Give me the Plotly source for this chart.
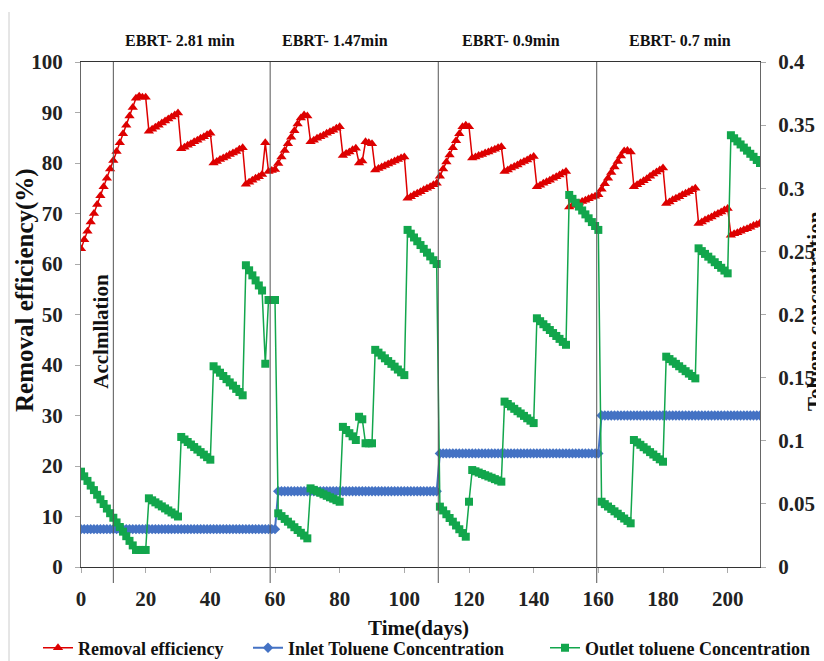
import plotly.graph_objects as go

days = list(range(0, 211))

removal_efficiency = [
    63.0, 64.8, 66.5, 68.3, 70.0, 71.8, 73.5, 75.3, 77.0, 78.8,
    80.5, 82.3, 84.0, 85.8, 87.5, 89.3, 91.0, 92.8, 93.2, 93.0, 93.0,
    86.3, 86.7, 87.1, 87.5, 87.9, 88.3, 88.7, 89.1, 89.5, 89.9,
    82.8, 83.1, 83.5, 83.8, 84.2, 84.5, 84.9, 85.2, 85.6, 85.9,
    80.0, 80.3, 80.7, 81.0, 81.3, 81.7, 82.0, 82.3, 82.7, 83.0,
    75.8, 76.2, 76.6, 77.0, 77.3, 77.7, 84.0, 78.3, 78.5, 78.7,
    79.9, 81.2, 82.5, 83.8, 85.1, 86.4, 87.7, 88.9, 89.5, 89.3,
    84.2, 84.5, 84.9, 85.2, 85.5, 85.9, 86.2, 86.5, 86.9, 87.2,
    81.5, 81.9, 82.2, 82.6, 82.9, 80.0, 80.4, 84.2, 84.0, 83.8,
    78.6, 78.9, 79.2, 79.5, 79.8, 80.1, 80.4, 80.7, 81.0, 81.2,
    73.0, 73.3, 73.7, 74.0, 74.3, 74.7, 75.0, 75.3, 75.7, 76.0,
    77.4, 78.8, 80.2, 81.6, 83.0, 84.4, 85.8, 87.2, 87.5, 87.2,
    81.0, 81.2, 81.5, 81.7, 82.0, 82.2, 82.5, 82.7, 83.0, 83.2,
    78.3, 78.6, 79.0, 79.3, 79.6, 80.0, 80.3, 80.6, 81.0, 81.3,
    75.3, 75.6, 76.0, 76.3, 76.6, 77.0, 77.3, 77.6, 78.0, 78.3,
    71.3, 71.6, 71.8, 72.1, 72.4, 72.6, 72.9, 73.2, 73.4, 73.7,
    74.8, 75.9, 77.0, 78.1, 79.2, 80.3, 81.4, 82.4, 82.5, 82.2,
    75.3, 75.7, 76.1, 76.5, 76.9, 77.4, 77.8, 78.2, 78.6, 79.0,
    72.0, 72.3, 72.7, 73.0, 73.3, 73.7, 74.0, 74.3, 74.7, 75.0,
    68.0, 68.3, 68.7, 69.0, 69.3, 69.7, 70.0, 70.3, 70.7, 71.0,
    65.7, 66.0, 66.2, 66.5, 66.8, 67.0, 67.3, 67.6, 67.8, 68.1,
]

inlet_toluene = [
    0.03, 0.03, 0.03, 0.03, 0.03, 0.03, 0.03, 0.03, 0.03, 0.03,
    0.03, 0.03, 0.03, 0.03, 0.03, 0.03, 0.03, 0.03, 0.03, 0.03, 0.03,
    0.03, 0.03, 0.03, 0.03, 0.03, 0.03, 0.03, 0.03, 0.03, 0.03,
    0.03, 0.03, 0.03, 0.03, 0.03, 0.03, 0.03, 0.03, 0.03, 0.03,
    0.03, 0.03, 0.03, 0.03, 0.03, 0.03, 0.03, 0.03, 0.03, 0.03,
    0.03, 0.03, 0.03, 0.03, 0.03, 0.03, 0.03, 0.03, 0.03, 0.03,
    0.06, 0.06, 0.06, 0.06, 0.06, 0.06, 0.06, 0.06, 0.06, 0.06,
    0.06, 0.06, 0.06, 0.06, 0.06, 0.06, 0.06, 0.06, 0.06, 0.06,
    0.06, 0.06, 0.06, 0.06, 0.06, 0.06, 0.06, 0.06, 0.06, 0.06,
    0.06, 0.06, 0.06, 0.06, 0.06, 0.06, 0.06, 0.06, 0.06, 0.06,
    0.06, 0.06, 0.06, 0.06, 0.06, 0.06, 0.06, 0.06, 0.06, 0.06,
    0.09, 0.09, 0.09, 0.09, 0.09, 0.09, 0.09, 0.09, 0.09, 0.09,
    0.09, 0.09, 0.09, 0.09, 0.09, 0.09, 0.09, 0.09, 0.09, 0.09,
    0.09, 0.09, 0.09, 0.09, 0.09, 0.09, 0.09, 0.09, 0.09, 0.09,
    0.09, 0.09, 0.09, 0.09, 0.09, 0.09, 0.09, 0.09, 0.09, 0.09,
    0.09, 0.09, 0.09, 0.09, 0.09, 0.09, 0.09, 0.09, 0.09, 0.09,
    0.12, 0.12, 0.12, 0.12, 0.12, 0.12, 0.12, 0.12, 0.12, 0.12,
    0.12, 0.12, 0.12, 0.12, 0.12, 0.12, 0.12, 0.12, 0.12, 0.12,
    0.12, 0.12, 0.12, 0.12, 0.12, 0.12, 0.12, 0.12, 0.12, 0.12,
    0.12, 0.12, 0.12, 0.12, 0.12, 0.12, 0.12, 0.12, 0.12, 0.12,
    0.12, 0.12, 0.12, 0.12, 0.12, 0.12, 0.12, 0.12, 0.12, 0.12,
]

outlet_toluene = [
    0.0755, 0.0718, 0.0682, 0.0645, 0.0609, 0.0572, 0.0536, 0.0499, 0.0463, 0.0426,
    0.0390, 0.0353, 0.0317, 0.0280, 0.0244, 0.0207, 0.0171, 0.0135, 0.0135, 0.0135, 0.0135,
    0.0544, 0.0528, 0.0512, 0.0496, 0.0480, 0.0464, 0.0448, 0.0432, 0.0416, 0.0400,
    0.1030, 0.1010, 0.0990, 0.0970, 0.0950, 0.0930, 0.0910, 0.0890, 0.0870, 0.0850,
    0.1590, 0.1564, 0.1539, 0.1513, 0.1488, 0.1462, 0.1437, 0.1411, 0.1386, 0.1360,
    0.2390, 0.2350, 0.2310, 0.2270, 0.2230, 0.2190, 0.1610, 0.2115, 0.2115, 0.2115,
    0.0425, 0.0403, 0.0381, 0.0359, 0.0337, 0.0315, 0.0293, 0.0271, 0.0249, 0.0227,
    0.0623, 0.0611, 0.0599, 0.0588, 0.0576, 0.0564, 0.0552, 0.0541, 0.0529, 0.0517,
    0.1110, 0.1085, 0.1060, 0.1035, 0.1006, 0.1190, 0.1170, 0.0980, 0.0980, 0.0980,
    0.1720, 0.1698, 0.1676, 0.1653, 0.1631, 0.1609, 0.1587, 0.1564, 0.1542, 0.1520,
    0.2670, 0.2640, 0.2610, 0.2580, 0.2550, 0.2520, 0.2490, 0.2460, 0.2430, 0.2400,
    0.0478, 0.0448, 0.0418, 0.0388, 0.0359, 0.0329, 0.0299, 0.0269, 0.0240, 0.0517,
    0.0768, 0.0758, 0.0748, 0.0737, 0.0727, 0.0717, 0.0707, 0.0696, 0.0686, 0.0676,
    0.1310, 0.1291, 0.1272, 0.1253, 0.1234, 0.1216, 0.1197, 0.1178, 0.1159, 0.1140,
    0.1970, 0.1947, 0.1923, 0.1900, 0.1877, 0.1853, 0.1830, 0.1807, 0.1783, 0.1760,
    0.2947, 0.2916, 0.2885, 0.2855, 0.2824, 0.2793, 0.2762, 0.2732, 0.2701, 0.2670,
    0.0517, 0.0498, 0.0479, 0.0460, 0.0441, 0.0422, 0.0403, 0.0384, 0.0365, 0.0346,
    0.1006, 0.0987, 0.0968, 0.0949, 0.0930, 0.0910, 0.0891, 0.0872, 0.0853, 0.0834,
    0.1666, 0.1647, 0.1628, 0.1609, 0.1590, 0.1570, 0.1551, 0.1532, 0.1513, 0.1494,
    0.2524, 0.2502, 0.2480, 0.2458, 0.2436, 0.2414, 0.2392, 0.2370, 0.2348, 0.2326,
    0.3420, 0.3396, 0.3371, 0.3347, 0.3322, 0.3298, 0.3273, 0.3249, 0.3224, 0.3200,
]

x_ticks = [0, 20, 40, 60, 80, 100, 120, 140, 160, 180, 200]
left_ticks = [0, 10, 20, 30, 40, 50, 60, 70, 80, 90, 100]
right_ticks = [0, 0.05, 0.1, 0.15, 0.2, 0.25, 0.3, 0.35, 0.4]
right_tick_text = ["0", "0.05", "0.1", "0.15", "0.2", "0.25", "0.3", "0.35", "0.4"]

phase_bounds = [10, 58.5, 110.5, 159.5]
phase_labels = ["EBRT- 2.81 min", "EBRT- 1.47min", "EBRT- 0.9min", "EBRT- 0.7 min"]
phase_label_x = [30.7, 78.7, 133, 185.4]

FONT = "Liberation Serif"
RED = "#dd0000"
BLUE = "#4472c4"
GREEN = "#12a64c"

# page has an 8px body margin; plot area in window pixels: x 81..760, y 62..567
PW, PH = 679.0, 505.0


def px(xw):
    return (xw - 81) / PW


def py(yw):
    return (567 - yw) / PH


fig = go.Figure()

fig.add_trace(go.Scatter(
    x=days, y=inlet_toluene, yaxis="y2", mode="lines+markers",
    name="Inlet Toluene Concentration", legend="legend2",
    line=dict(color=BLUE, width=2),
    marker=dict(symbol="diamond", size=8, color=BLUE),
))
fig.add_trace(go.Scatter(
    x=days, y=outlet_toluene, yaxis="y2", mode="lines+markers",
    name="Outlet toluene Concentration", legend="legend3",
    line=dict(color=GREEN, width=1.5),
    marker=dict(symbol="square", size=8, color=GREEN),
))
fig.add_trace(go.Scatter(
    x=days, y=removal_efficiency, mode="lines+markers",
    name="Removal efficiency", legend="legend",
    line=dict(color=RED, width=1.5),
    marker=dict(symbol="triangle-up", size=9, color=RED),
))

for b in phase_bounds:
    fig.add_shape(type="line", xref="x", yref="paper", x0=b, x1=b, y0=py(583), y1=1,
                  line=dict(color="#555555", width=1))


def txt(size):
    return dict(family=FONT, size=size, color="#111", weight="bold")


annotations = []
for lab, lx in zip(phase_labels, phase_label_x):
    annotations.append(dict(x=lx, y=py(41), xref="x", yref="paper", text=lab,
                            xanchor="center", yanchor="middle", showarrow=False, font=txt(16)))
annotations.append(dict(x=6.1, y=py(331), xref="x", yref="paper", text="Acclmllation", textangle=-90,
                        xanchor="center", yanchor="middle", showarrow=False, font=txt(21)))
annotations.append(dict(x=px(25), y=py(290), xref="paper", yref="paper", text="Removal efficiency(%)",
                        textangle=-90, xanchor="center", yanchor="middle", showarrow=False, font=txt(25)))
annotations.append(dict(x=px(815), y=py(311), xref="paper", yref="paper", text="Toluene concentration",
                        textangle=-90, xanchor="center", yanchor="middle", showarrow=False, font=txt(21)))
annotations.append(dict(x=px(418), y=py(628), xref="paper", yref="paper", text="Time(days)",
                        xanchor="center", yanchor="middle", showarrow=False, font=txt(21)))

tickfont = dict(family=FONT, size=21, color="#222", weight="bold")
legfont = dict(family=FONT, size=18, color="#111", weight="bold")

fig.update_layout(
    width=816, height=653,
    margin=dict(l=73, r=64, t=54, b=94, autoexpand=False),
    paper_bgcolor="white", plot_bgcolor="white",
    xaxis=dict(range=[0, 210], tickvals=x_ticks, showgrid=False, zeroline=False,
               showline=True, linecolor="#333", linewidth=1, mirror=True,
               ticks="outside", ticklen=5, tickcolor="#aaa", tickfont=tickfont,
               ticklabelstandoff=8),
    yaxis=dict(range=[0, 100], tickvals=left_ticks, showgrid=False, zeroline=False,
               showline=True, linecolor="#666", linewidth=1,
               ticks="outside", ticklen=5, tickcolor="#aaa", tickfont=tickfont,
               ticklabelstandoff=8),
    yaxis2=dict(range=[0, 0.4], tickvals=right_ticks, ticktext=right_tick_text,
                overlaying="y", side="right", showgrid=False, zeroline=False,
                showline=True, linecolor="#666", linewidth=1,
                ticks="outside", ticklen=5, tickcolor="#aaa", tickfont=tickfont,
                ticklabelstandoff=8),
    annotations=annotations,
    legend=dict(x=px(38), y=py(648), xanchor="left", yanchor="middle", orientation="h",
                font=legfont, bgcolor="rgba(0,0,0,0)"),
    legend2=dict(x=px(248), y=py(648), xanchor="left", yanchor="middle", orientation="h",
                 font=legfont, bgcolor="rgba(0,0,0,0)"),
    legend3=dict(x=px(545), y=py(648), xanchor="left", yanchor="middle", orientation="h",
                 font=legfont, bgcolor="rgba(0,0,0,0)"),
    showlegend=True,
)

fig.add_shape(type="line", xref="paper", yref="paper", x0=px(9), x1=px(9),
              y0=py(661), y1=py(12), line=dict(color="#cccccc", width=1))

fig.write_html("out.html")
